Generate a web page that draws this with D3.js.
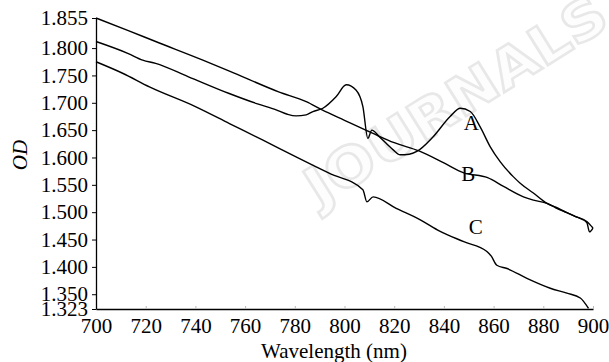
<!DOCTYPE html>
<html><head><meta charset="utf-8">
<script src="https://cdn.jsdelivr.net/npm/d3@7"></script>
<style>body{margin:0;background:#fff}svg{display:block}</style>
</head><body>
<svg id="chart" width="609" height="362"></svg>
<script>
const xTicks = [700,720,740,760,780,800,820,840,860,880,900];
const yTicks = [1.323,1.35,1.4,1.45,1.5,1.55,1.6,1.65,1.7,1.75,1.8,1.855];
const wlA = [700,713,718.8,724,737,753.6,765,772.5,777,780.5,784.6,787.3,791.3,796.6,800.7,804.7,807.4,809.4,811,814,819.6,822.4,826,829.1,835.7,842.5,846.6,850.6,854.6,858.6,862.7,867.9,870.7,876,881.5,885,889.5,893,897.5,898.6,900];
const odA = [1.812,1.790,1.778,1.772,1.748,1.717,1.698,1.687,1.679,1.676,1.678,1.684,1.690,1.711,1.733,1.723,1.693,1.635,1.650,1.638,1.614,1.605,1.606,1.611,1.638,1.675,1.690,1.684,1.656,1.620,1.592,1.565,1.553,1.535,1.516,1.509,1.499,1.492,1.481,1.464,1.471];
const wlB = [700,713,724,743,753.7,773.5,784.6,791,800,811,820,830,840,848,857.6,864,872,876,881.5,885,889.5,893,897.5,900];
const odB = [1.855,1.832,1.812,1.778,1.758,1.720,1.702,1.687,1.668,1.645,1.627,1.612,1.590,1.572,1.563,1.547,1.528,1.522,1.516,1.508,1.499,1.492,1.483,1.471];
const wlC = [700,710.7,721.5,740,753.7,767,780.5,794,807.4,809,811.5,820.8,830.5,838.5,848,857.3,859,861.3,865.4,873.4,882.8,889.5,894.9,898.2];
const odC = [1.775,1.754,1.729,1.693,1.662,1.632,1.601,1.571,1.541,1.519,1.528,1.507,1.486,1.465,1.446,1.428,1.420,1.403,1.397,1.379,1.361,1.352,1.343,1.324];
const seriesNames = ["A","B","C"];
const labelPos = [[848,1.650],[847,1.557],[850,1.461]];

const svg = d3.select("#chart");
const serif = '"Liberation Serif"';
const fs = "21px";
const x = d3.scaleLinear().domain([700,900]).range([96,593]);
const y = d3.scaleLinear().domain([1.323,1.855]).range([309,18]);

// watermark
svg.append("text")
  .attr("transform","translate(458,104) rotate(-32)")
  .attr("text-anchor","middle").attr("dominant-baseline","middle")
  .style("font-family",'"DejaVu Sans"').style("font-weight","bold").style("font-size","54px")
  .attr("textLength",345).attr("lengthAdjust","spacingAndGlyphs")
  .attr("fill","#fdfdfd").attr("stroke","#e8e8e8").attr("stroke-width",2.5)
  .text("JOURNALS");

const line = d3.line().x(d=>x(d[0])).y(d=>y(d[1])).curve(d3.curveMonotoneX);
const data = [d3.zip(wlA,odA), d3.zip(wlB,odB), d3.zip(wlC,odC)];
svg.selectAll("path.s").data(data).join("path").attr("class","s")
  .attr("d",line).attr("fill","none").attr("stroke","#000").attr("stroke-width",1.4);

// axes
const gx = svg.append("g").attr("transform","translate(0,309)")
  .call(d3.axisBottom(x).tickValues(xTicks).tickSize(-3).tickSizeOuter(0).tickPadding(9).tickFormat(d3.format("d")));
gx.select(".domain").attr("stroke","#000").attr("stroke-width",1.3);
gx.selectAll(".tick line").attr("stroke","#bbb");
gx.selectAll("text").style("font-family",serif).style("font-size",fs).attr("fill","#000");

const gy = svg.append("g").attr("transform","translate(96,0)")
  .call(d3.axisLeft(y).tickValues(yTicks).tickSize(4).tickSizeOuter(0).tickPadding(4).tickFormat(d3.format(".3f")));
gy.select(".domain").attr("stroke","#000").attr("stroke-width",1.3);
gy.selectAll(".tick line").attr("stroke","#000");
gy.selectAll("text").style("font-family",serif).style("font-size",fs).attr("fill","#000");

svg.append("text").attr("x",334).attr("y",358).attr("text-anchor","middle")
  .style("font-family",serif).style("font-size",fs).text("Wavelength (nm)");
svg.append("text").attr("transform","translate(27,155) rotate(-90)").attr("text-anchor","middle")
  .style("font-family",serif).style("font-size",fs).style("font-style","italic").text("OD");

svg.selectAll("text.lab").data(seriesNames).join("text").attr("class","lab")
  .attr("x",(d,i)=>x(labelPos[i][0])).attr("y",(d,i)=>y(labelPos[i][1]))
  .style("font-family",serif).style("font-size",fs).text(d=>d);
</script>
</body></html>
